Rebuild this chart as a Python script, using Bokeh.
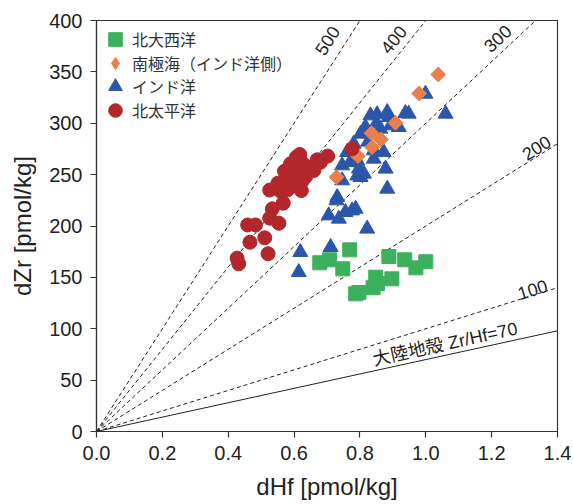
import math
from bokeh.plotting import figure
from bokeh.models import Range1d, FixedTicker, NumeralTickFormatter, Legend, LegendItem
from bokeh.core.properties import value
from bokeh.embed import file_html
from bokeh.resources import INLINE

# ---------------- data (dHf, dZr in pmol/kg) ----------------
na_hf = [0.769, 0.678, 0.708, 0.748, 0.888, 0.936, 0.970, 1.000, 0.848, 0.897, 0.840, 0.787, 0.797, 0.853]
na_zr = [176.8, 164.2, 167.1, 158.3, 170.3, 167.1, 159.3, 165.2, 150.2, 148.6, 139.9, 134.0, 135.3, 144.0]

so_hf = [1.038, 0.980, 0.908, 0.835, 0.864, 0.837, 0.794, 0.729]
so_zr = [347.4, 329.0, 300.4, 290.3, 284.2, 276.7, 268.0, 247.5]

io_hf = [0.999, 0.832, 0.852, 0.883, 0.888, 0.938, 0.948, 1.060, 0.817, 0.802,
         0.862, 0.893, 0.918, 0.781, 0.761, 0.842, 0.872, 0.792, 0.842, 0.797,
         0.812, 0.878, 0.746, 0.746, 0.883, 0.731, 0.729, 0.705, 0.736, 0.756,
         0.776, 0.787, 0.822, 0.619, 0.711, 0.614, 0.792, 0.802, 0.811, 0.850,
         0.825, 0.770]
io_zr = [328.6, 307.5, 308.5, 310.8, 305.9, 309.8, 309.2, 309.2, 296.2, 289.7,
         294.6, 297.8, 296.2, 280.0, 271.8, 273.5, 271.8, 263.7, 265.4, 255.7,
         250.8, 255.7, 258.9, 244.3, 236.2, 228.0, 224.8, 210.2, 207.0, 213.4,
         215.0, 216.7, 197.3, 174.5, 179.4, 155.0, 249.0, 247.5, 293.0, 300.0,
         282.0, 262.0]

np_hf = [0.617, 0.607, 0.670, 0.702, 0.680, 0.589, 0.628, 0.571, 0.650, 0.660,
         0.609, 0.584, 0.635, 0.599, 0.625, 0.551, 0.589, 0.526, 0.559, 0.622,
         0.579, 0.567, 0.534, 0.526, 0.554, 0.459, 0.483, 0.466, 0.511, 0.521,
         0.427, 0.432, 0.776]
np_zr = [269.6, 267.0, 264.4, 268.0, 262.0, 260.5, 260.5, 253.3, 257.0, 254.0,
         250.8, 247.5, 248.0, 244.0, 244.0, 241.7, 237.8, 235.0, 233.9, 234.5,
         235.0, 222.2, 216.7, 207.6, 202.7, 201.0, 201.0, 184.2, 188.5, 173.0,
         168.7, 163.2, 275.1]

series_names = ["北大西洋", "南極海（インド洋側）", "インド洋", "北太平洋"]

ratios = [500, 400, 300, 200, 100]
ratio_labels = ["500", "400", "300", "200", "100"]
crust_ratio = 70
crust_label = "大陸地殻  Zr/Hf=70"

x_ticks = [0.0, 0.2, 0.4, 0.6, 0.8, 1.0, 1.2, 1.4]
y_ticks = [0, 50, 100, 150, 200, 250, 300, 350, 400]

# ---------------- layout / style ----------------
X_MAX, Y_MAX = 1.4, 400
W, H = 573, 504
BL, BR, BT, BB = 96, 16, 20, 73
FW, FH = W - BL - BR, H - BT - BB

ratio_label_pos = [(0.701, 380.5), (0.902, 381.5), (1.218, 382.5), (1.336, 276.0), (1.324, 138.2)]
crust_label_pos = (1.066, 85.6)

LEG_X = 2                 # px from frame left
LEG_ROW0 = 19             # px from frame top to first row centre
LEG_STRIDE = 23.5
LEG_GLYPH = 36

TXT = "#231f20"
LAT = "Liberation Sans"
JP = "'Noto Sans CJK JP'"

p = figure(width=W, height=H, output_backend="svg", toolbar_location=None,
           x_range=Range1d(0, X_MAX), y_range=Range1d(0, Y_MAX),
           min_border_left=BL, min_border_right=BR, min_border_top=BT, min_border_bottom=BB)
p.xgrid.visible = False
p.ygrid.visible = False
p.outline_line_color = "#333333"
p.outline_line_width = 1.2

def screen_angle(r):
    return math.atan(r * (FH / Y_MAX) / (FW / X_MAX))

for r, lab, (lx, ly) in zip(ratios, ratio_labels, ratio_label_pos):
    xe = min(X_MAX, Y_MAX / r)
    p.line([0, xe], [0, r * xe], line_color="#222222", line_width=1, line_dash="4 3")
    p.text(x=[lx], y=[ly], text=[lab], angle=screen_angle(r), text_align="center",
           text_baseline="middle", text_font=value(LAT), text_font_size="18px", text_color=TXT)

xe = min(X_MAX, Y_MAX / crust_ratio)
p.line([0, xe], [0, crust_ratio * xe], line_color="#222222", line_width=1)
p.text(x=[crust_label_pos[0]], y=[crust_label_pos[1]], text=[crust_label],
       angle=screen_angle(crust_ratio), text_align="center", text_baseline="middle",
       text_font=value("Liberation Sans, 'Noto Sans CJK JP'"), text_font_size="18px", text_color=TXT)

C_NA, C_SO, C_IO, C_NP = "#3cb05c", "#e97f4a", "#2b56a9", "#b3262b"

r_na = p.scatter(na_hf, na_zr, marker="square", size=14, fill_color=C_NA, line_color=C_NA)
r_io = p.scatter(io_hf, io_zr, marker="triangle", size=15, fill_color=C_IO, line_color=C_IO)
# diamond glyph (used for the legend) lies fully under the 45°-rotated squares
r_so_leg = p.scatter(so_hf, so_zr, marker="diamond", size=14, fill_color=C_SO, line_color=None)
r_so = p.scatter(so_hf, so_zr, marker="square", angle=math.pi / 4, size=10.5,
                 fill_color=C_SO, line_color=C_SO)
r_np = p.scatter(np_hf, np_zr, marker="circle", size=14, fill_color=C_NP, line_color=C_NP)

for i, (name, rend) in enumerate(zip(series_names, [r_na, r_so_leg, r_io, r_np])):
    centre_from_top = LEG_ROW0 + i * LEG_STRIDE
    bottom_from_frame_bottom = FH - (centre_from_top + LEG_GLYPH / 2)
    lg = Legend(items=[LegendItem(label=name, renderers=[rend])],
                location=(LEG_X, bottom_from_frame_bottom), margin=0, padding=0, spacing=0,
                glyph_width=34, glyph_height=LEG_GLYPH, label_standoff=0,
                label_text_font=JP, label_text_font_size="16px", label_text_color="#333333",
                background_fill_alpha=0, border_line_alpha=0)
    p.add_layout(lg)

for ax in (p.xaxis[0], p.yaxis[0]):
    ax.axis_line_color = "#333333"
    ax.axis_line_width = 1.2
    ax.major_tick_line_color = "#333333"
    ax.major_tick_line_width = 1.2
    ax.major_tick_in = 0
    ax.major_tick_out = 6
    ax.minor_tick_line_color = None
    ax.major_label_text_font = LAT
    ax.major_label_text_font_size = "20px"
    ax.major_label_text_color = TXT
    ax.axis_label_text_font = LAT
    ax.axis_label_text_font_size = "24px"
    ax.axis_label_text_font_style = "normal"
    ax.axis_label_text_color = TXT

p.xaxis.ticker = FixedTicker(ticks=x_ticks)
p.yaxis.ticker = FixedTicker(ticks=y_ticks)
p.xaxis.formatter = NumeralTickFormatter(format="0.0")
p.xaxis.axis_label = "dHf [pmol/kg]"
p.yaxis.axis_label = "dZr [pmol/kg]"
p.xaxis.major_label_standoff = 8
p.yaxis.major_label_standoff = 8
p.xaxis.axis_label_standoff = 10
p.yaxis.axis_label_standoff = 10

open("out.html", "w").write(file_html(p, INLINE))
